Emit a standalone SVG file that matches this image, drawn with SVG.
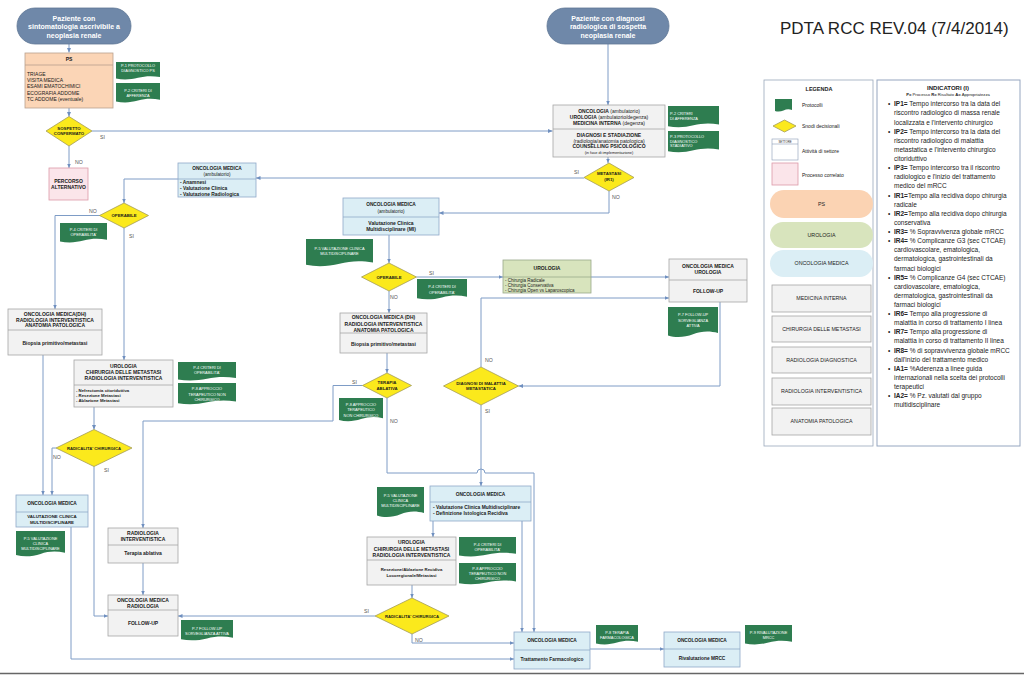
<svg xmlns="http://www.w3.org/2000/svg" width="1024" height="675" viewBox="0 0 1024 675">
<defs>
<style>
text{font-family:"Liberation Sans",Arial,sans-serif;fill:#1a1a1a}
.h{font-size:5px;font-weight:bold;text-anchor:middle}
.n{font-size:5px;text-anchor:middle}
.hb{font-size:4.8px;font-weight:bold;text-anchor:middle}
.bl{font-size:4.9px;font-weight:bold}
.bs{font-size:4.3px;font-weight:bold}
.ns{font-size:4.5px}
.pl{font-size:5px}
.dt{font-size:3.9px;fill:#fff;text-anchor:middle}
.dtl{font-size:3.9px;fill:#fff}
.dmt{font-size:4.3px;font-weight:bold;text-anchor:middle}
.lab{font-size:5.2px;fill:#555}
.term{font-size:7px;font-weight:bold;fill:#fff;text-anchor:middle}
.gb{fill:#f2f2f2;stroke:#a6a6a6;stroke-width:0.8}
.bb{fill:#dbeef5;stroke:#8fa9c8;stroke-width:0.8}
.pe{fill:#fbd5b6;stroke:#b9a08e;stroke-width:0.8}
.pk{fill:#fbe5ea;stroke:#dc9aa8;stroke-width:0.8}
.gn{fill:#d8e4bd;stroke:#9aa98a;stroke-width:0.8}
.sp{stroke:#a6a6a6;stroke-width:0.8}
.dm{fill:#fbe91c;stroke:#a39c58;stroke-width:0.8}
.doc{fill:#2e7d50}
.tm{fill:#6f88a9;stroke:#5f7796;stroke-width:0.8}
.ln{fill:none;stroke:#7e9cc6;stroke-width:1;marker-end:url(#ah)}
.lg{font-size:5.3px;text-anchor:middle;fill:#222}
.ind{font-size:6.5px;fill:#222}
</style>
<marker id="ah" markerWidth="5" markerHeight="5" refX="4.5" refY="2.5" orient="auto" markerUnits="userSpaceOnUse"><path d="M0,0.5 L4.5,2.5 L0,4.5 Z" fill="#6f8fbf"/></marker>
<path id="doc" d="M0,0 H100 V84 C82,76 66,78 50,88 C34,98 16,100 0,92 Z"/>
</defs>
<rect width="1024" height="675" fill="#fff"/>
<text x="780" y="34" style="font-size:17px;fill:#222">PDTA RCC REV.04 (7/4/2014)</text>
<line x1="0" y1="673.5" x2="1024" y2="673.5" stroke="#666" stroke-width="1.5"/>

<g id="connectors">
<path class="ln" d="M69,44 V52.5"/>
<path class="ln" d="M69,108 V116.5"/>
<path class="ln" d="M92,131 H552.5"/>
<path class="ln" d="M69,146 V168"/>
<path class="ln" d="M608,44 V105"/>
<path class="ln" d="M608,157 V163"/>
<path class="ln" d="M584,178 H256"/>
<path class="ln" d="M609,191 V213 H439"/>
<path class="ln" d="M178,179 H124 V203"/>
<path class="ln" d="M100,215.5 H55 V309"/>
<path class="ln" d="M124,228 V360"/>
<path class="ln" d="M43,355 V495"/>
<path class="ln" d="M94,407 V429.5"/>
<path class="ln" d="M56,448 H52 V495"/>
<path class="ln" d="M94,466.5 V616 H108"/>
<path class="ln" d="M71,527 V659 H514"/>
<path class="ln" d="M389,235 V263"/>
<path class="ln" d="M416.5,277 H503"/>
<path class="ln" d="M591,277 H669"/>
<path class="ln" d="M389,291 V313"/>
<path class="ln" d="M387,353 V373"/>
<path class="ln" d="M362.5,385.5 H333 V421 H143 V528"/>
<path class="ln" d="M387,398 V473 H477 A4,4 0 0 1 485,473 H534 V632"/>
<path class="ln" d="M481,367 V298 H669"/>
<path class="ln" d="M720,302 V386 H518.5"/>
<path class="ln" d="M481,405 V486"/>
<path class="ln" d="M433,521 V537"/>
<path class="ln" d="M522,521 V632"/>
<path class="ln" d="M412,585 V598"/>
<path class="ln" d="M375,616 H178"/>
<path class="ln" d="M412,634 V643 H514"/>
<path class="ln" d="M143,563 V595"/>
<path class="ln" d="M590,649 H664"/>
<text class="lab" x="100" y="139">SI</text>
<text class="lab" x="75" y="164">NO</text>
<text class="lab" x="574" y="174">SI</text>
<text class="lab" x="612" y="199">NO</text>
<text class="lab" x="89" y="213">NO</text>
<text class="lab" x="129" y="238">SI</text>
<text class="lab" x="53" y="459">NO</text>
<text class="lab" x="104" y="472">SI</text>
<text class="lab" x="429" y="275">SI</text>
<text class="lab" x="390" y="299">NO</text>
<text class="lab" x="352" y="383.5">SI</text>
<text class="lab" x="390" y="423">NO</text>
<text class="lab" x="485" y="362">NO</text>
<text class="lab" x="485" y="413">SI</text>
<text class="lab" x="364" y="613">SI</text>
<text class="lab" x="415" y="642">NO</text>
</g>

<g id="start1">
<rect class="tm" x="17" y="8" width="114" height="36" rx="18"/>
<text class="term" x="74" y="20.5">Paziente con</text>
<text class="term" x="74" y="29">sintomatologia ascrivibile a</text>
<text class="term" x="74" y="37.5">neoplasia renale</text>
</g>
<g id="start2">
<rect class="tm" x="547" y="8" width="122" height="36" rx="18"/>
<text class="term" x="608" y="20.5">Paziente con diagnosi</text>
<text class="term" x="608" y="29">radiologica di sospetta</text>
<text class="term" x="608" y="37.5">neoplasia renale</text>
</g>

<g id="ps">
<rect class="pe" x="25" y="53" width="88" height="55"/>
<line x1="25" y1="65" x2="113" y2="65" stroke="#b9a08e" stroke-width="0.8"/>
<text class="h" x="69" y="61">PS</text>
<text class="pl" x="27" y="75.7">TRIAGE</text>
<text class="pl" x="27" y="82">VISITA MEDICA</text>
<text class="pl" x="27" y="88.3">ESAMI EMATOCHIMICI</text>
<text class="pl" x="27" y="94.6">ECOGRAFIA ADDOME</text>
<text class="pl" x="27" y="100.9">TC ADDOME (eventuale)</text>
</g>

<g id="d-sospetto">
<polygon class="dm" points="46,131 69,116.5 92,131 69,146"/>
<text class="dmt" x="69" y="129.5">SOSPETTO</text>
<text class="dmt" x="69" y="134.7">CONFERMATO</text>
</g>

<g id="percorso">
<rect class="pk" x="49" y="168" width="39" height="32"/>
<text class="h" x="68.5" y="183.4">PERCORSO</text>
<text class="h" x="68.5" y="189.4">ALTERNATIVO</text>
</g>

<g id="oncologia-main">
<rect class="gb" x="553" y="105" width="112" height="52"/>
<line class="sp" x1="553" y1="129" x2="665" y2="129"/>
<text class="n" x="609" y="112.7"><tspan font-weight="bold">ONCOLOGIA</tspan> (ambulatorio)</text>
<text class="n" x="609" y="119"><tspan font-weight="bold">UROLOGIA</tspan> (ambulatorio/degenza)</text>
<text class="n" x="609" y="125"><tspan font-weight="bold">MEDICINA INTERNA</tspan> (degenza)</text>
<text class="h" x="609" y="136.7">DIAGNOSI E STADIAZIONE</text>
<text class="n" x="609" y="142.7">(radiologia/anatomia patologica)</text>
<text class="h" x="609" y="148.4">COUNSELLING PSICOLOGICO</text>
<text class="n" x="609" y="153.8" style="font-size:3.9px">(in fase di implementazione)</text>
</g>

<g id="d-metastasi">
<polygon class="dm" points="584,177.5 609,163 634,177.5 609,191"/>
<text class="dmt" x="609" y="175">METASTASI</text>
<text class="dmt" x="609" y="181">(IR1)</text>
</g>

<g id="om-amb-left">
<rect class="bb" x="178" y="163" width="78" height="34"/>
<line x1="178" y1="179" x2="256" y2="179" stroke="#8fa9c8" stroke-width="0.8"/>
<text class="hb" x="217" y="170">ONCOLOGIA MEDICA</text>
<text class="n" x="217" y="175.7" style="font-size:4.6px">(ambulatorio)</text>
<text class="bl" x="180" y="184.2">- Anamnesi</text>
<text class="bl" x="180" y="190">- Valutazione Clinica</text>
<text class="bl" x="180" y="195.6">- Valutazione Radiologica</text>
</g>

<g id="d-operabile-left">
<polygon class="dm" points="99.5,215.5 124,203 148.5,215.5 124,228"/>
<text class="dmt" x="124" y="217">OPERABILE</text>
</g>

<g id="om-dh-left">
<rect class="gb" x="8" y="309" width="94" height="46"/>
<line class="sp" x1="8" y1="330" x2="102" y2="330"/>
<text class="h" x="55" y="316">ONCOLOGIA MEDICA(DH)</text>
<text class="h" x="55" y="321.7">RADIOLOGIA INTERVENTISTICA</text>
<text class="h" x="55" y="327.4">ANATOMIA PATOLOGICA</text>
<text class="h" x="55" y="345">Biopsia primitivo/metastasi</text>
</g>

<g id="uro-left">
<rect class="gb" x="74" y="360" width="99" height="47"/>
<line class="sp" x1="74" y1="385" x2="173" y2="385"/>
<text class="h" x="123.5" y="367.7">UROLOGIA</text>
<text class="h" x="123.5" y="374">CHIRURGIA DELLE METASTASI</text>
<text class="h" x="123.5" y="380">RADIOLOGIA INTERVENTISTICA</text>
<text class="bs" x="76" y="391.5">- Nefrectomia citoriduttiva</text>
<text class="bs" x="76" y="396.6">- Resezione Metastasi</text>
<text class="bs" x="76" y="401.7">- Ablazione Metastasi</text>
</g>

<g id="d-radicalita-left">
<polygon class="dm" points="56,448 94,429.5 132,448 94,466.5"/>
<text class="dmt" x="94" y="449.5" style="font-size:4.2px">RADICALITA' CHIRURGICA</text>
</g>

<g id="om-left-bottom">
<rect class="bb" x="16" y="495" width="72" height="32"/>
<line x1="16" y1="512" x2="88" y2="512" stroke="#8fa9c8" stroke-width="0.8"/>
<text class="hb" x="52" y="505">ONCOLOGIA MEDICA</text>
<text class="hb" x="52" y="518.4" style="font-size:4.4px">VALUTAZIONE CLINICA</text>
<text class="hb" x="52" y="524" style="font-size:4.4px">MULTIDISCIPLINARE</text>
</g>

<g id="rad-int">
<rect class="gb" x="108" y="528" width="70" height="35"/>
<line class="sp" x1="108" y1="545" x2="178" y2="545"/>
<text class="h" x="143" y="535">RADIOLOGIA</text>
<text class="h" x="143" y="541">INTERVENTISTICA</text>
<text class="h" x="143" y="555">Terapia ablativa</text>
</g>

<g id="fu-left">
<rect class="gb" x="108" y="595" width="70" height="41"/>
<line class="sp" x1="108" y1="610" x2="178" y2="610"/>
<text class="h" x="143" y="602.4">ONCOLOGIA MEDICA</text>
<text class="h" x="143" y="608.2">RADIOLOGIA</text>
<text class="h" x="143" y="625">FOLLOW-UP</text>
</g>

<g id="om-amb-mid">
<rect class="bb" x="343" y="198" width="96" height="37"/>
<line x1="343" y1="217" x2="439" y2="217" stroke="#8fa9c8" stroke-width="0.8"/>
<text class="hb" x="391" y="206">ONCOLOGIA MEDICA</text>
<text class="n" x="391" y="212.5" style="font-size:4.6px">(ambulatorio)</text>
<text class="h" x="391" y="225">Valutazione Clinica</text>
<text class="h" x="391" y="231">Multidisciplinare (MI)</text>
</g>

<g id="d-operabile-mid">
<polygon class="dm" points="361.5,277 389,263 416.5,277 389,291"/>
<text class="dmt" x="389" y="278.5">OPERABILE</text>
</g>

<g id="om-dh-mid">
<rect class="gb" x="340" y="313" width="87" height="40"/>
<line class="sp" x1="340" y1="333" x2="427" y2="333"/>
<text class="h" x="383.5" y="319.4">ONCOLOGIA MEDICA (DH)</text>
<text class="h" x="383.5" y="325.5">RADIOLOGIA INTERVENTISTICA</text>
<text class="h" x="383.5" y="331.5">ANATOMIA PATOLOGICA</text>
<text class="h" x="383.5" y="345.7">Biopsia primitivo/metastasi</text>
</g>

<g id="d-terapia-ablativa">
<polygon class="dm" points="362.5,385.5 387,373 411.5,385.5 387,398"/>
<text class="dmt" x="387" y="384">TERAPIA</text>
<text class="dmt" x="387" y="389.5">ABLATIVA</text>
</g>

<g id="uro-green">
<rect class="gn" x="503" y="260" width="88" height="33"/>
<line x1="503" y1="277" x2="591" y2="277" stroke="#9aa98a" stroke-width="0.8"/>
<text class="h" x="547" y="270">UROLOGIA</text>
<text class="ns" x="505" y="282">- Chirurgia Radicale</text>
<text class="ns" x="505" y="287">- Chirurgia Conservativa</text>
<text class="ns" x="505" y="292">- Chirurgia Open vs Laparoscopica</text>
</g>

<g id="fu-right">
<rect class="gb" x="669" y="259" width="78" height="43"/>
<line class="sp" x1="669" y1="280" x2="747" y2="280"/>
<text class="h" x="708" y="267.7">ONCOLOGIA MEDICA</text>
<text class="h" x="708" y="274.2">UROLOGIA</text>
<text class="h" x="708" y="293.4">FOLLOW-UP</text>
</g>

<g id="d-diagnosi-metastatica">
<polygon class="dm" points="443.5,386 481,367 518.5,386 481,405"/>
<text class="dmt" x="481" y="384.5">DIAGNOSI DI MALATTIA</text>
<text class="dmt" x="481" y="390">METASTATICA</text>
</g>

<g id="om-mid">
<rect class="bb" x="430" y="486" width="101" height="35"/>
<line x1="430" y1="502" x2="531" y2="502" stroke="#8fa9c8" stroke-width="0.8"/>
<text class="hb" x="480.5" y="495.7">ONCOLOGIA MEDICA</text>
<text class="bl" x="433" y="509.4">- Valutazione Clinica Multidisciplinare</text>
<text class="bl" x="433" y="515">- Definizione Istologica Recidiva</text>
</g>

<g id="uro-mid">
<rect class="gb" x="367" y="537" width="89" height="48"/>
<line class="sp" x1="367" y1="560" x2="456" y2="560"/>
<text class="h" x="411.5" y="544.4">UROLOGIA</text>
<text class="h" x="411.5" y="550.7">CHIRURGIA DELLE METASTASI</text>
<text class="h" x="411.5" y="556.7">RADIOLOGIA INTERVENTISTICA</text>
<text class="bs" x="411.5" y="571" text-anchor="middle">Resezione/Ablazione Recidiva</text>
<text class="bs" x="411.5" y="576.7" text-anchor="middle">Locoregionale/Metastasi</text>
</g>

<g id="d-radicalita-mid">
<polygon class="dm" points="375,616 412,598 449,616 412,634"/>
<text class="dmt" x="412" y="617.5" style="font-size:4.2px">RADICALITA' CHIRURGICA</text>
</g>

<g id="trattamento">
<rect class="bb" x="514" y="632" width="76" height="37"/>
<line x1="514" y1="650" x2="590" y2="650" stroke="#8fa9c8" stroke-width="0.8"/>
<text class="hb" x="552" y="642.4">ONCOLOGIA MEDICA</text>
<text class="hb" x="552" y="660.5">Trattamento Farmacologico</text>
</g>

<g id="rivalutazione">
<rect class="bb" x="664" y="632" width="76" height="35"/>
<line x1="664" y1="649" x2="740" y2="649" stroke="#8fa9c8" stroke-width="0.8"/>
<text class="hb" x="702" y="642.4">ONCOLOGIA MEDICA</text>
<text class="hb" x="702" y="660">Rivalutazione MRCC</text>
</g>

<g id="protocols">
<use href="#doc" class="doc" transform="translate(116,62) scale(0.44,0.18)"/>
<text class="dt" x="138" y="66.5">P-1 PROTOCOLLO</text>
<text class="dt" x="138" y="72">DIAGNOSTICO PS</text>
<use href="#doc" class="doc" transform="translate(116,83) scale(0.44,0.2)"/>
<text class="dt" x="138" y="92">P-2 CRITERI DI</text>
<text class="dt" x="138" y="97.3">AFFERENZA</text>
<use href="#doc" class="doc" transform="translate(668,106) scale(0.51,0.22)"/>
<text class="dtl" x="670" y="114.6">P-2 CRITERI</text>
<text class="dtl" x="670" y="119.6">DI AFFERENZA</text>
<use href="#doc" class="doc" transform="translate(668,131) scale(0.51,0.22)"/>
<text class="dtl" x="670" y="138">P-3 PROTOCOLLO</text>
<text class="dtl" x="670" y="142.6">DIAGNOSTICO</text>
<text class="dtl" x="670" y="147.3">STADIATIVO</text>
<use href="#doc" class="doc" transform="translate(60,223) scale(0.47,0.2)"/>
<text class="dt" x="83.5" y="231.3">P-4 CRITERI DI</text>
<text class="dt" x="83.5" y="236.3">OPERABILITA'</text>
<use href="#doc" class="doc" transform="translate(306,239) scale(0.67,0.28)"/>
<text class="dt" x="339.5" y="250.3">P-5 VALUTAZIONE CLINICA</text>
<text class="dt" x="339.5" y="255.3">MULTIDISCIPLINARE</text>
<use href="#doc" class="doc" transform="translate(417,279) scale(0.5,0.21)"/>
<text class="dt" x="442" y="288">P-4 CRITERI DI</text>
<text class="dt" x="442" y="293.6">OPERABILITA'</text>
<use href="#doc" class="doc" transform="translate(178,362) scale(0.58,0.19)"/>
<text class="dt" x="207" y="368.6">P-4 CRITERI DI</text>
<text class="dt" x="207" y="374">OPERABILITA'</text>
<use href="#doc" class="doc" transform="translate(178,383) scale(0.58,0.22)"/>
<text class="dt" x="207" y="390.3">P-8 APPROCCIO</text>
<text class="dt" x="207" y="395.6">TERAPEUTICO NON</text>
<text class="dt" x="207" y="400.6">CHIRURGICO</text>
<use href="#doc" class="doc" transform="translate(339,398) scale(0.44,0.24)"/>
<text class="dt" x="361" y="406.3">P-8 APPROCCIO</text>
<text class="dt" x="361" y="411.3">TERAPEUTICO</text>
<text class="dt" x="361" y="416.6">NON CHIRURGICO</text>
<use href="#doc" class="doc" transform="translate(668,307) scale(0.5,0.31)"/>
<text class="dt" x="693" y="316.3">P-7 FOLLOW-UP</text>
<text class="dt" x="693" y="322">SORVEGLIANZA</text>
<text class="dt" x="693" y="327.3">ATTIVA</text>
<use href="#doc" class="doc" transform="translate(16,531) scale(0.49,0.26)"/>
<text class="dt" x="40.5" y="539.6">P-5 VALUTAZIONE</text>
<text class="dt" x="40.5" y="544.6">CLINICA</text>
<text class="dt" x="40.5" y="550">MULTIDISCIPLINARE</text>
<use href="#doc" class="doc" transform="translate(377,487) scale(0.47,0.31)"/>
<text class="dt" x="400.5" y="497">P-5 VALUTAZIONE</text>
<text class="dt" x="400.5" y="502">CLINICA</text>
<text class="dt" x="400.5" y="507">MULTIDISCIPLINARE</text>
<use href="#doc" class="doc" transform="translate(459,537) scale(0.57,0.2)"/>
<text class="dt" x="487.5" y="546.3">P-4 CRITERI DI</text>
<text class="dt" x="487.5" y="551.3">OPERABILITA'</text>
<use href="#doc" class="doc" transform="translate(459,563) scale(0.57,0.22)"/>
<text class="dt" x="487.5" y="570.3">P-8 APPROCCIO</text>
<text class="dt" x="487.5" y="575.3">TERAPEUTICO NON</text>
<text class="dt" x="487.5" y="580.4">CHIRURGICO</text>
<use href="#doc" class="doc" transform="translate(181,620) scale(0.52,0.21)"/>
<text class="dt" x="207" y="629.6">P-7 FOLLOW-UP</text>
<text class="dt" x="207" y="635.3">SORVEGLIANZA ATTIVA</text>
<use href="#doc" class="doc" transform="translate(596,625) scale(0.42,0.2)"/>
<text class="dt" x="617" y="633.6">P-8 TERAPIA</text>
<text class="dt" x="617" y="639">FARMACOLOGICA</text>
<use href="#doc" class="doc" transform="translate(745,625) scale(0.47,0.2)"/>
<text class="dt" x="768.5" y="633.6">P-9 RIVALUTAZIONE</text>
<text class="dt" x="768.5" y="638.6">MRCC</text>
</g>

<g id="legend">
<rect x="764" y="80" width="109" height="366" fill="#fff" stroke="#9aa8bb" stroke-width="0.8"/>
<text x="819" y="90.5" style="font-size:5.5px;font-weight:bold;text-anchor:middle">LEGENDA</text>
<use href="#doc" class="doc" transform="translate(775,99) scale(0.17,0.13)"/>
<text class="pl" x="802" y="107">Protocolli</text>
<polygon class="dm" points="773,126 784.5,120 796,126 784.5,132"/>
<text class="pl" x="802" y="127.7">Snodi decisionali</text>
<rect x="772" y="139" width="26" height="21" fill="#fff" stroke="#8a9bb5" stroke-width="0.6"/>
<line x1="772" y1="144" x2="798" y2="144" stroke="#8a9bb5" stroke-width="0.6"/>
<text x="785" y="142.8" style="font-size:2.8px;text-anchor:middle">SETTORE</text>
<text class="pl" x="802" y="152.5">Attività di settore</text>
<rect class="pk" x="772" y="163" width="26" height="22"/>
<text class="pl" x="802" y="176.5">Processo correlato</text>
<rect x="770" y="190" width="103" height="28" rx="14" fill="#fbd3b3"/>
<text class="lg" x="821.5" y="205.8">PS</text>
<rect x="770" y="222" width="103" height="26" rx="13" fill="#d8e4bd"/>
<text class="lg" x="821.5" y="236.8">UROLOGIA</text>
<rect x="770" y="250" width="103" height="27" rx="13.5" fill="#dbeef5"/>
<text class="lg" x="821.5" y="265.3">ONCOLOGIA MEDICA</text>
<rect class="gb" x="772" y="285" width="99" height="27"/>
<text class="lg" x="821.5" y="300.3">MEDICINA INTERNA</text>
<rect class="gb" x="772" y="316" width="99" height="26"/>
<text class="lg" x="821.5" y="330.8">CHIRURGIA DELLE METASTASI</text>
<rect class="gb" x="772" y="347" width="99" height="26"/>
<text class="lg" x="821.5" y="361.8">RADIOLOGIA DIAGNOSTICA</text>
<rect class="gb" x="772" y="378" width="99" height="27"/>
<text class="lg" x="821.5" y="393.3">RADIOLOGIA INTERVENTISTICA</text>
<rect class="gb" x="772" y="408" width="99" height="27"/>
<text class="lg" x="821.5" y="423.3">ANATOMIA PATOLOGICA</text>
</g>

<g id="indicators">
<rect x="877" y="80" width="143" height="366" fill="#fff" stroke="#95a6c0" stroke-width="1"/>
<text x="948" y="90" style="font-size:6px;font-weight:bold;text-anchor:middle">INDICATORI (I)</text>
<text x="948" y="95.5" style="font-size:4.2px;text-anchor:middle"><tspan font-weight="bold">P=</tspan> Processo <tspan font-weight="bold">R=</tspan> Risultato <tspan font-weight="bold">A=</tspan> Appropriatezza</text>
<g class="ind">
<text class="ind" x="888" y="106.3">•</text>
<text class="ind" x="894" y="106.3"><tspan font-weight="bold">IP1=</tspan> Tempo intercorso tra la data del</text>
<text class="ind" x="894" y="115.4">riscontro radiologico di massa renale</text>
<text class="ind" x="894" y="124.5">localizzata e l'intervento chirurgico</text>
<text class="ind" x="888" y="133.7">•</text>
<text class="ind" x="894" y="133.7"><tspan font-weight="bold">IP2=</tspan> Tempo intercorso tra la data del</text>
<text class="ind" x="894" y="142.8">riscontro radiologico di malattia</text>
<text class="ind" x="894" y="151.9">metastatica e l'intervento chirurgico</text>
<text class="ind" x="894" y="161">citoriduttivo</text>
<text class="ind" x="888" y="170.1">•</text>
<text class="ind" x="894" y="170.1"><tspan font-weight="bold">IP3=</tspan> Tempo intercorso tra il riscontro</text>
<text class="ind" x="894" y="179.3">radiologico e l'inizio del trattamento</text>
<text class="ind" x="894" y="188.4">medico del mRCC</text>
<text class="ind" x="888" y="197.5">•</text>
<text class="ind" x="894" y="197.5"><tspan font-weight="bold">IR1=</tspan>Tempo alla recidiva dopo chirurgia</text>
<text class="ind" x="894" y="206.6">radicale</text>
<text class="ind" x="888" y="215.7">•</text>
<text class="ind" x="894" y="215.7"><tspan font-weight="bold">IR2=</tspan>Tempo alla recidiva dopo chirurgia</text>
<text class="ind" x="894" y="224.9">conservativa</text>
<text class="ind" x="888" y="234">•</text>
<text class="ind" x="894" y="234"><tspan font-weight="bold">IR3=</tspan> % Sopravvivenza globale mRCC</text>
<text class="ind" x="888" y="243.1">•</text>
<text class="ind" x="894" y="243.1"><tspan font-weight="bold">IR4=</tspan> % Complicanze G3 (sec CTCAE)</text>
<text class="ind" x="894" y="252.2">cardiovascolare, ematologica,</text>
<text class="ind" x="894" y="261.3">dermatologica, gastrointestinali da</text>
<text class="ind" x="894" y="270.5">farmaci biologici</text>
<text class="ind" x="888" y="279.6">•</text>
<text class="ind" x="894" y="279.6"><tspan font-weight="bold">IR5=</tspan> % Complicanze G4 (sec CTCAE)</text>
<text class="ind" x="894" y="288.7">cardiovascolare, ematologica,</text>
<text class="ind" x="894" y="297.8">dermatologica, gastrointestinali da</text>
<text class="ind" x="894" y="306.9">farmaci biologici</text>
<text class="ind" x="888" y="316.1">•</text>
<text class="ind" x="894" y="316.1"><tspan font-weight="bold">IR6=</tspan> Tempo alla progressione di</text>
<text class="ind" x="894" y="325.2">malattia in corso di trattamento I linea</text>
<text class="ind" x="888" y="334.3">•</text>
<text class="ind" x="894" y="334.3"><tspan font-weight="bold">IR7=</tspan> Tempo alla progressione di</text>
<text class="ind" x="894" y="343.4">malattia in corso di trattamento II linea</text>
<text class="ind" x="888" y="352.5">•</text>
<text class="ind" x="894" y="352.5"><tspan font-weight="bold">IR8=</tspan> % di sopravvivenza globale mRCC</text>
<text class="ind" x="894" y="361.7">dall'inizio del trattamento medico</text>
<text class="ind" x="888" y="370.8">•</text>
<text class="ind" x="894" y="370.8"><tspan font-weight="bold">IA1=</tspan> %Aderenza a linee guida</text>
<text class="ind" x="894" y="379.9">internazionali nella scelta dei protocolli</text>
<text class="ind" x="894" y="389">terapeutici</text>
<text class="ind" x="888" y="398.1">•</text>
<text class="ind" x="894" y="398.1"><tspan font-weight="bold">IA2=</tspan> % Pz. valutati dal gruppo</text>
<text class="ind" x="894" y="407.3">multidisciplinare</text>
</g>
</g>
</svg>
